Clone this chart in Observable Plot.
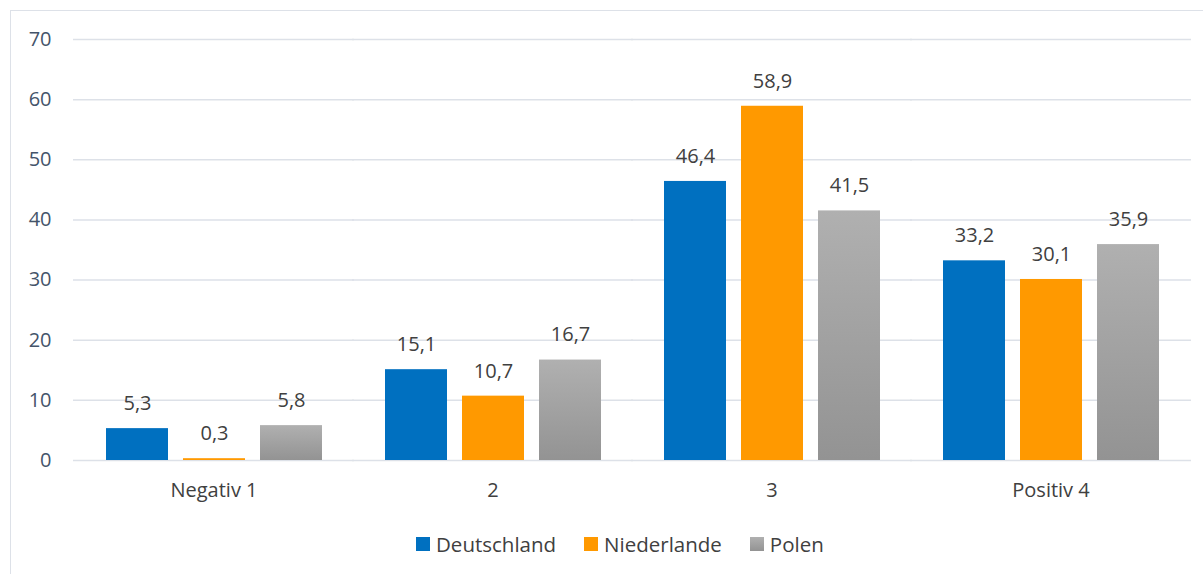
<!DOCTYPE html>
<html>
<head>
<meta charset="utf-8">
<script src="https://cdn.jsdelivr.net/npm/d3@7"></script>
<script src="https://cdn.jsdelivr.net/npm/@observablehq/plot@0.6"></script>
<style>
  html, body { margin: 0; padding: 0; background: #fff; overflow: hidden; }
  body { width: 1203px; height: 574px; position: relative; font-family: "Open Sans", sans-serif; }
  #frame { position: absolute; left: 10px; top: 10px; width: 1400px; height: 800px; border: 1px solid #dde1e8; pointer-events: none; }
  #chart { position: absolute; left: 0; top: 0; }
  #legend { position: absolute; left: 416px; top: 534px; display: flex; align-items: center; font-size: 20.5px; line-height: 20px; color: #404040; }
  .item { display: flex; align-items: center; margin-right: 28px; }
  .sw { width: 14px; height: 14px; margin-right: 6px; }
</style>
</head>
<body>
<div id="chart"></div>
<div id="legend"></div>
<div id="frame"></div>
<script>
const categories = ["Negativ 1", "2", "3", "Positiv 4"];
const series = ["Deutschland", "Niederlande", "Polen"];
const deutschland = [5.3, 15.1, 46.4, 33.2];
const niederlande = [0.3, 10.7, 58.9, 30.1];
const polen = [5.8, 16.7, 41.5, 35.9];
const yTicks = [0, 10, 20, 30, 40, 50, 60, 70];
const colors = ["#0070c0", "#ff9900", "url(#polenGrad)"];

const values = [deutschland, niederlande, polen];
const data = [];
categories.forEach((c, i) => {
  series.forEach((s, j) => data.push({category: c, series: s, value: values[j][i]}));
});

const fmt = v => v.toFixed(1).replace(".", ",");

const plot = Plot.plot({
  width: 1203,
  height: 520,
  marginLeft: 74,
  marginRight: 13,
  marginTop: 39,
  marginBottom: 60,
  style: {fontFamily: "'Open Sans', sans-serif", fontSize: "20px", color: "#404040", background: "transparent"},
  fx: {domain: categories, paddingInner: 0.222, paddingOuter: 0.111, label: null},
  x: {domain: series, paddingInner: 0.195, paddingOuter: 0, axis: null},
  y: {domain: [0, 70], axis: null},
  color: {domain: series, range: colors},
  marks: [
    Plot.ruleY(yTicks, {stroke: "#dde1e8", strokeWidth: 1.5, insetLeft: -32, insetRight: -32}),
    Plot.axisY(yTicks, {tickSize: 0, tickPadding: 54, textAnchor: "end", fill: "#44546a", label: null, fontSize: 20}),
    Plot.axisFx({anchor: "bottom", tickSize: 0, tickPadding: 22, label: null, fontSize: 20, fill: "#404040"}),
    Plot.barY(data, {fx: "category", x: "series", y: "value", fill: "series"}),
    Plot.text(data, {fx: "category", x: "series", y: "value", text: d => fmt(d.value), dy: -25, lineAnchor: "middle", fill: "#404040", fontSize: 20})
  ]
});

const svg = d3.select(plot);
const defs = svg.insert("defs", ":first-child");
const g = defs.append("linearGradient").attr("id", "polenGrad").attr("x1", 0).attr("y1", 0).attr("x2", 0).attr("y2", 1);
g.append("stop").attr("offset", "0%").attr("stop-color", "#b0b0b0");
g.append("stop").attr("offset", "100%").attr("stop-color", "#939393");

document.getElementById("chart").appendChild(plot);

const legend = document.getElementById("legend");
const swatchColors = ["#0070c0", "#ff9900", "linear-gradient(#b0b0b0, #939393)"];
series.forEach((s, i) => {
  const item = document.createElement("div");
  item.className = "item";
  const sw = document.createElement("div");
  sw.className = "sw";
  sw.style.background = swatchColors[i];
  const t = document.createElement("span");
  t.textContent = s;
  item.appendChild(sw);
  item.appendChild(t);
  legend.appendChild(item);
});
</script>
</body>
</html>
